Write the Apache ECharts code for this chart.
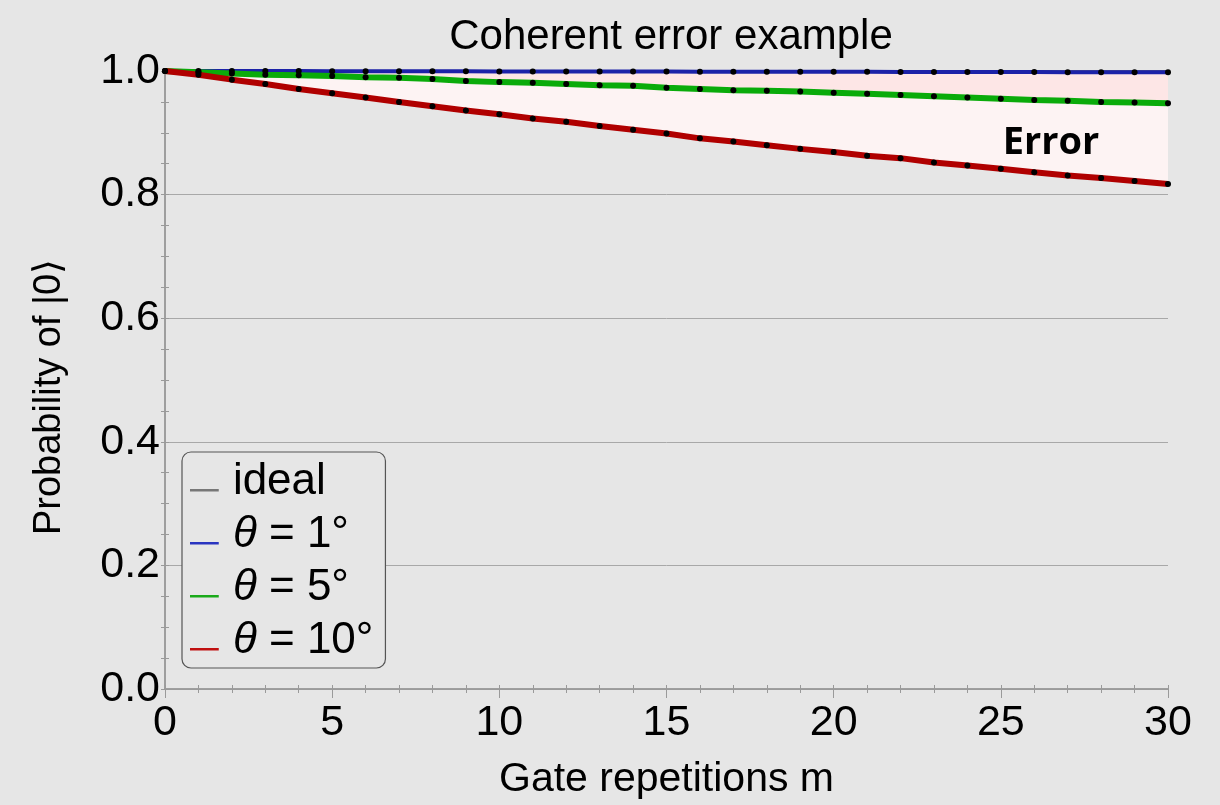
<!DOCTYPE html>
<html>
<head>
<meta charset="utf-8">
<script src="https://cdn.jsdelivr.net/npm/echarts@6/dist/echarts.min.js"></script>
<style>html,body{margin:0;padding:0;background:#e6e6e6;}#c{width:1220px;height:805px;}</style>
</head>
<body>
<div id="c"></div>
<script>
const mValues = [0,1,2,3,4,5,6,7,8,9,10,11,12,13,14,15,16,17,18,19,20,21,22,23,24,25,26,27,28,29,30];
const ideal  = [1,1,1,1,1,1,1,1,1,1,1,1,1,1,1,1,1,1,1,1,1,1,1,1,1,1,1,1,1,1,1];
const theta1 = [1.0000,0.9999,0.9999,0.9998,0.9998,0.9997,0.9996,0.9996,0.9995,0.9994,0.9993,0.9993,0.9992,0.9991,0.9991,0.9990,0.9989,0.9988,0.9988,0.9987,0.9986,0.9986,0.9985,0.9984,0.9983,0.9983,0.9982,0.9981,0.9980,0.9980,0.9979];
const theta5 = [1.000,0.998,0.996,0.994,0.993,0.992,0.990,0.989,0.987,0.984,0.982,0.981,0.979,0.977,0.976,0.973,0.971,0.969,0.968,0.967,0.965,0.963,0.961,0.959,0.957,0.955,0.953,0.952,0.950,0.949,0.948];
const theta10 = [1.000,0.994,0.986,0.979,0.971,0.964,0.957,0.950,0.943,0.936,0.930,0.923,0.918,0.911,0.905,0.899,0.891,0.886,0.880,0.874,0.869,0.863,0.859,0.852,0.847,0.842,0.836,0.831,0.827,0.822,0.817];
const seriesNames = ['ideal','θ = 1°','θ = 5°','θ = 10°'];
const errorLabel = {text:'Error', m:26.5, p:0.853};

const pts = arr => mValues.map((m,i)=>[m,arr[i]]);

const chart = echarts.init(document.getElementById('c'));
const axisGray = '#9a9a9a';
const font = 'Liberation Sans';
const dotSeries = (arr) => ({
  type:'scatter', data: pts(arr), symbol:'circle', symbolSize:6,
  itemStyle:{color:'#000', opacity:1}, z:10, silent:true
});
const icon = 'path://M0,0 L0.01,0 L0.01,0.01 L0,0.01 Z M0,16 L28,16 L28,18.5 L0,18.5 Z';
chart.setOption({
  backgroundColor:'#e6e6e6',
  animation:false,
  title:{text:'Coherent error example', left:666, textAlign:'center', top:11,
    textStyle:{fontFamily:font, fontWeight:'normal', fontSize:42, color:'#000'}},
  grid:{left:165, right:52, top:71, bottom:115},
  legend:{
    data: seriesNames.map((n,i)=>({name:n, icon:icon,
      itemStyle:{color:['#777777','#2a35c0','#1aaa1a','#c01010'][i]}})),
    orient:'vertical', left:182, top:452,
    padding:[8,12,5,8], itemGap:9,
    itemWidth:29, itemHeight:19,
    borderColor:'#555', borderWidth:1.2, borderRadius:9,
    backgroundColor:'#e6e6e6',
    textStyle:{fontFamily:font, fontSize:44, color:'#000', padding:[0,0,0,9],
      rich:{i:{fontFamily:font, fontStyle:'italic', fontSize:44, color:'#000'},
            n:{fontFamily:font, fontSize:44, color:'#000'}}},
    formatter: name => name.indexOf('θ')===0 ? '{i|θ}{n|'+name.slice(1)+'}' : name
  },
  xAxis:[{
    type:'value', min:0, max:30, interval:5,
    name:'Gate repetitions m', nameLocation:'middle', nameGap:70,
    nameTextStyle:{fontFamily:font, fontSize:41, color:'#000'},
    axisLine:{show:true, lineStyle:{color:axisGray, width:1.5}},
    axisTick:{show:true, inside:true, length:4, lineStyle:{color:axisGray}},
    minorTick:{show:true, splitNumber:5, length:4, lineStyle:{color:axisGray}},
    axisLabel:{fontFamily:font, fontSize:43, color:'#000', margin:13},
    splitLine:{show:false}
  },{
    type:'value', min:0, max:30, interval:5, position:'top',
    axisLine:{show:true, lineStyle:{color:axisGray, width:1.5}},
    axisTick:{show:true, inside:true, length:9, lineStyle:{color:axisGray}},
    minorTick:{show:true, splitNumber:5, length:4, lineStyle:{color:axisGray}},
    axisLabel:{show:false}, splitLine:{show:false}
  }],
  yAxis:[{
    type:'value', min:0, max:1, interval:0.2,
    name:'Probability of |0⟩', nameLocation:'middle', nameGap:96,
    nameTextStyle:{fontFamily:font, fontSize:38, color:'#000', padding:[0,34,0,0]},
    axisLine:{show:true, lineStyle:{color:axisGray, width:1.5}},
    axisTick:{show:true, inside:true, length:4, lineStyle:{color:axisGray}},
    minorTick:{show:true, splitNumber:4, length:4, lineStyle:{color:axisGray}},
    axisLabel:{fontFamily:font, fontSize:43, color:'#000', margin:5,
      formatter: v => v.toFixed(1)},
    splitLine:{show:true, lineStyle:{color:'#a8a8a8', width:1}}
  },{
    type:'value', min:0, max:1, interval:0.2, position:'right',
    axisLine:{show:true, lineStyle:{color:axisGray, width:1.5}},
    axisTick:{show:true, inside:true, length:4, lineStyle:{color:axisGray}},
    minorTick:{show:true, splitNumber:4, length:4, lineStyle:{color:axisGray}},
    axisLabel:{show:false}, splitLine:{show:false}
  }],
  series:[
    {name:'_fill10', type:'line', data: pts(theta10), showSymbol:false,
     lineStyle:{opacity:0}, areaStyle:{origin:'end', color:'#fdf3f3', opacity:1}, silent:true, z:1},
    {name:'_fill5', type:'line', data: pts(theta5), showSymbol:false,
     lineStyle:{opacity:0}, areaStyle:{origin:'end', color:'#fde6e6', opacity:1}, silent:true, z:2},
    {name:seriesNames[0], type:'line', data: pts(ideal), showSymbol:false,
     lineStyle:{color:'#777', width:2}, itemStyle:{color:'#777'}, z:3},
    {name:seriesNames[1], type:'line', data: pts(theta1), showSymbol:false,
     lineStyle:{color:'#1c22a8', width:4}, itemStyle:{color:'#2a35c0'}, z:4},
    {name:seriesNames[2], type:'line', data: pts(theta5), showSymbol:false,
     lineStyle:{color:'#0aab0a', width:6}, itemStyle:{color:'#1aaa1a'}, z:4},
    {name:seriesNames[3], type:'line', data: pts(theta10), showSymbol:false,
     lineStyle:{color:'#b00000', width:6}, itemStyle:{color:'#c01010'}, z:4},
    dotSeries(theta1), dotSeries(theta5), dotSeries(theta10),
    {type:'scatter', data:[[errorLabel.m, errorLabel.p]], symbolSize:0, silent:true, z:11,
     itemStyle:{opacity:1},
     label:{show:true, position:'top', distance:0, formatter:errorLabel.text, textBorderWidth:0,
       fontFamily:'Open Sans', fontWeight:'bold', fontSize:38, color:'#000000', opacity:1}}
  ]
});
</script>
</body>
</html>
